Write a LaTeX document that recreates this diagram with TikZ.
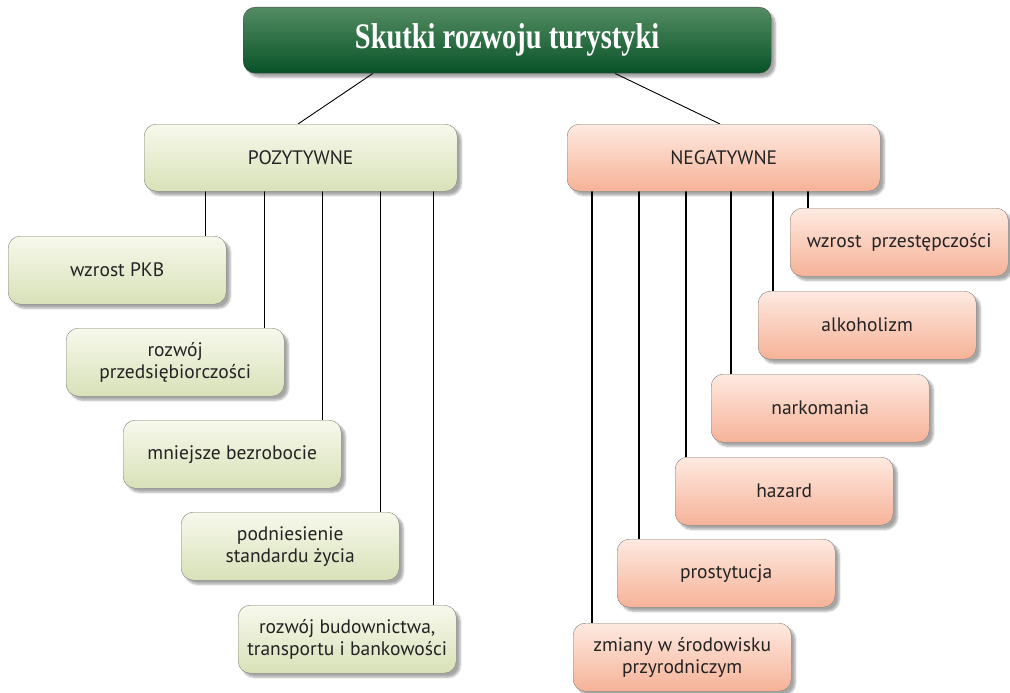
\documentclass[tikz,border=0pt]{standalone}
\usepackage{fontspec}
\setmainfont{PT Sans}
\newfontfamily\titlefont{Liberation Serif}
\usetikzlibrary{shadows.blur,backgrounds}

\definecolor{titletop}{RGB}{84,140,98}
\definecolor{titlemid}{RGB}{10,104,52}
\definecolor{titlebot}{RGB}{8,82,40}
\definecolor{poztop}{RGB}{247,249,236}
\definecolor{pozbot}{RGB}{216,225,184}
\definecolor{negtop}{RGB}{254,234,225}
\definecolor{negbot}{RGB}{246,178,152}
\definecolor{edge}{RGB}{128,128,122}
\definecolor{ink}{RGB}{35,35,35}

\begin{document}
\begin{tikzpicture}[
  x=1pt, y=-1pt,
  font=\fontsize{19.5}{22}\selectfont,
  box/.style={rectangle, draw=edge, rounded corners=12pt, align=center,
              anchor=north west, text=ink,
              minimum width=218pt, minimum height=68pt,
              blur shadow={shadow xshift=4pt, shadow yshift=-4pt,
                           shadow blur steps=6, shadow opacity=35}},
  head/.style={box, minimum width=313pt, minimum height=67pt},
  pozbox/.style={top color=poztop, bottom color=pozbot},
  negbox/.style={top color=negtop, bottom color=negbot},
  link/.style={line width=1.5pt, black},
  slant/.style={line width=0.9pt, black},
]
\useasboundingbox (0,0) rectangle (1010,693);

% title
\node[box, draw=black!70, minimum width=528pt, minimum height=66pt,
      top color=titletop, middle color=titlemid, bottom color=titlebot,
      text=white, font=\titlefont\bfseries\fontsize{36}{40}\selectfont]
      (title) at (243,7) {\scalebox{0.79}[1]{Skutki rozwoju turystyki}};

% two groups
\node[head, pozbox] (poz) at (144,124) {POZYTYWNE};
\node[head, negbox] (neg) at (567,124) {NEGATYWNE};

% positive effects
\node[box, pozbox] (p1) at (8,236)   {wzrost PKB};
\node[box, pozbox] (p2) at (66,328)  {rozwój\\przedsiębiorczości};
\node[box, pozbox] (p3) at (123,420) {mniejsze bezrobocie};
\node[box, pozbox] (p4) at (181,512) {podniesienie\\standardu życia};
\node[box, pozbox] (p5) at (238,605) {rozwój budownictwa,\\transportu i bankowości};

% negative effects
\node[box, negbox] (n1) at (790,208) {wzrost\enspace przestępczości};
\node[box, negbox] (n2) at (758,291) {alkoholizm};
\node[box, negbox] (n3) at (711,374) {narkomania};
\node[box, negbox] (n4) at (675,457) {hazard};
\node[box, negbox] (n5) at (617,539) {prostytucja};
\node[box, negbox] (n6) at (573,623) {zmiany w środowisku\\przyrodniczym};

\begin{scope}[on background layer]
\draw[slant] ([xshift=130]title.south west) -- ([xshift=154]poz.north west);
\draw[slant] ([xshift=372]title.south west) -- ([xshift=153]neg.north west);

\draw[link] ([xshift=-21]p1.north east) -- ([xshift=-21]p1.north east |- poz.south);
\draw[link] ([xshift=-20]p2.north east) -- ([xshift=-20]p2.north east |- poz.south);
\draw[link] ([xshift=-19]p3.north east) -- ([xshift=-19]p3.north east |- poz.south);
\draw[link] ([xshift=-19]p4.north east) -- ([xshift=-19]p4.north east |- poz.south);
\draw[link] ([xshift=-23]p5.north east) -- ([xshift=-23]p5.north east |- poz.south);

\draw[link] ([xshift=18]n1.north west) -- ([xshift=18]n1.north west |- neg.south);
\draw[link] ([xshift=15]n2.north west) -- ([xshift=15]n2.north west |- neg.south);
\draw[link] ([xshift=20]n3.north west) -- ([xshift=20]n3.north west |- neg.south);
\draw[link] ([xshift=11]n4.north west) -- ([xshift=11]n4.north west |- neg.south);
\draw[link] ([xshift=22]n5.north west) -- ([xshift=22]n5.north west |- neg.south);
\draw[link] ([xshift=19]n6.north west) -- ([xshift=19]n6.north west |- neg.south);
\end{scope}

\end{tikzpicture}
\end{document}
